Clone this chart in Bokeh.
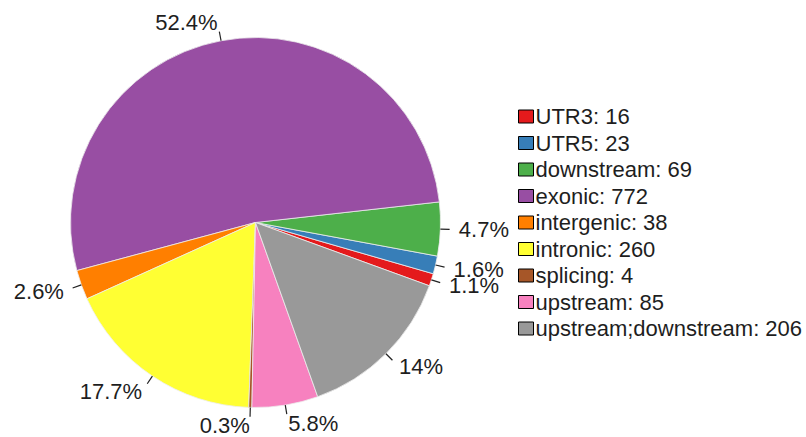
import numpy as np
from bokeh.plotting import figure
from bokeh.models import Range1d, ColumnDataSource
from bokeh.embed import file_html
from bokeh.resources import INLINE
from bokeh.core.properties import value

categories = ["UTR3", "UTR5", "downstream", "exonic", "intergenic",
              "intronic", "splicing", "upstream", "upstream;downstream"]
counts = [16, 23, 69, 772, 38, 260, 4, 85, 206]
pct_labels = ["1.1%", "1.6%", "4.7%", "52.4%", "2.6%", "17.7%", "0.3%", "5.8%", "14%"]
colors = ["#E41A1C", "#377EB8", "#4DAF4A", "#984EA3", "#FF7F00",
          "#FFFF33", "#A65628", "#F781BF", "#999999"]

W, H = 806, 437
S = 185.0            # pie radius in px
CX, CY = 255, 222    # pie centre in figure px (from top-left)
START_DEG = -20.0
FONT = value("Liberation Sans")
TXT = "#1e1e1e"

p = figure(width=W, height=H, output_backend="svg", toolbar_location=None,
           x_range=Range1d(-CX / S, (W - CX) / S),
           y_range=Range1d(-(H - CY) / S, CY / S),
           min_border=0)
p.xaxis.visible = False
p.yaxis.visible = False
p.grid.visible = False
p.outline_line_color = None
p.background_fill_color = "white"

vals = np.array(counts, dtype=float)
frac = vals / vals.sum()
cum = np.concatenate([[0], np.cumsum(frac)])
start = np.deg2rad(START_DEG) + 2 * np.pi * cum[:-1]
end = np.deg2rad(START_DEG) + 2 * np.pi * cum[1:]
mid = (start + end) / 2

src = ColumnDataSource(dict(start=start, end=end, color=colors))
p.wedge(x=0, y=0, radius=1.0, start_angle="start", end_angle="end",
        direction="anticlock", fill_color="color", line_color="#eeeeee",
        line_width=0.8, source=src)

cs, sn = np.cos(mid), np.sin(mid)
p.segment(x0=cs, y0=sn, x1=1.05 * cs, y1=1.05 * sn, line_color="#222222", line_width=1.2)

align = ["right" if c < 0 else "left" for c in cs]
lsrc = ColumnDataSource(dict(x=1.1 * cs, y=1.1 * sn, t=pct_labels, a=align))
p.text(x="x", y="y", text="t", text_align="a", text_baseline="middle",
       text_font=FONT, text_font_size="22px", text_color=TXT, source=lsrc)

# legend
n = len(categories)
leg_fy = 116 + 26.5 * np.arange(n)
leg_y = (CY - leg_fy) / S
box_x = (525.5 - CX) / S
p.rect(x=box_x, y=leg_y, width=15 / S, height=13 / S, fill_color=colors,
       line_color="black", line_width=1)
leg_text = [f"{c}: {v}" for c, v in zip(categories, counts)]
p.text(x=(535 - CX) / S, y=leg_y, text=leg_text, text_align="left",
       text_baseline="middle", text_font=FONT, text_font_size="22px", text_color=TXT)

open("out.html", "w").write(file_html(p, INLINE))
